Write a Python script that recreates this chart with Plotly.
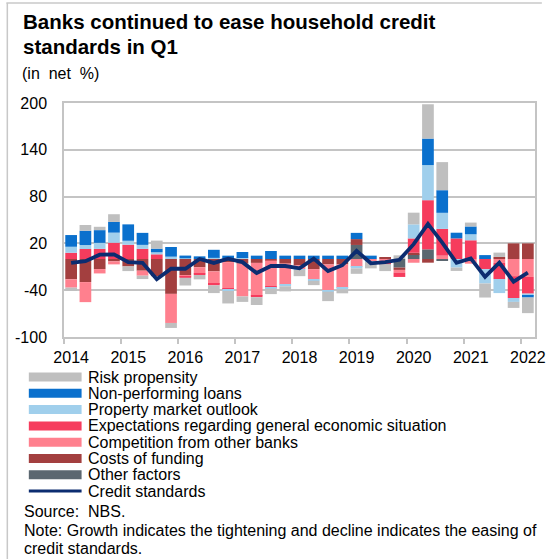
import plotly.graph_objects as go

# ---------------- data ----------------
quarters = ["2014Q1","2014Q2","2014Q3","2014Q4","2015Q1","2015Q2","2015Q3","2015Q4",
            "2016Q1","2016Q2","2016Q3","2016Q4","2017Q1","2017Q2","2017Q3","2017Q4",
            "2018Q1","2018Q2","2018Q3","2018Q4","2019Q1","2019Q2","2019Q3","2019Q4",
            "2020Q1","2020Q2","2020Q3","2020Q4","2021Q1","2021Q2","2021Q3","2021Q4",
            "2022Q1"]
year_labels = ["2014","2015","2016","2017","2018","2019","2020","2021","2022"]

risk   = [-4.3, 7.3, 4.3, 9.9, -6, -4.3, 10.3, -6.4, -10, -5.6, -9.9, -16, -7, -10, -7, -6.5,
          -8, -5.5, -12, -5, -7, -8, -9, 4.7, 15, 44, 36, -4.3, 5, -18, 5.6, -7.7, -20]
npl    = [15, 18.4, 16.3, 13.7, 21, 15.4, 4.7, 12.4, 3.4, 3.4, 10.3, 4.3, 7.7, 4.3, 10.3, 4.3,
          4.3, 4.3, 4.3, 4.3, 8, 4.3, 0, 0, 0, 34, 29, 7.3, 10, 5, 0, 0, -2]
prop   = [7.7, 5.1, 7.7, 12.9, 5.1, 5.1, 2.6, 3, 1, 0, 1.5, -1.5, 1.3, 0, -1, -2,
          -1, -2, -2, -2, -2, -1, 0, 0, 18, 45, 20.6, -11, 7.7, -18.4, -18, -5, -3]
expect = [8, 12.8, 13, 20.9, 18.3, 13, 6, 0, -2, -2, -2, -1.5, 0, -2, -2, 0,
          0, 0, 0, 0, 0, 0, -1, -5.6, 18.4, 63, 34.3, 26.4, 24, -13, -21, -28, -21.4]
compet = [-10.7, -25.7, -5.6, -3.9, 0, -6.4, 0, -37.3, -1, -8, -15.9, -34, -42, -42, -33, -27,
          -5, -13, -33, -30, -10, -3, -5.5, -3.4, -4.8, 0, 4.3, 0, -6, 0, -4.7, -22, -23]
costs  = [-26, -29.6, -12.9, -3, -9.5, -15, -22, -44.7, -21, -10.5, -15.9, -4, -6, -5, -2, -6,
          -8, -13, -7, -7, 7.5, 0, 2.5, -3, 2, -4.7, 0, 0, 0, 0, 2.6, 20, 20]
other  = [0, 0, 0, 0, 0, 0, 0, 0, 0, 0, 0, 0, 0, 0, 0, 0,
          0, 0, 0, 0, 18, 0, 0, -11, 6, 12.4, -1.5, 0, 0, 0, 0, 0, 0]
credit = [-5, -2.7, 5.5, 6, -4, -4.8, -26, -12.5, -12.5, 0, -5, 0.5, -4, -18, -9, -9,
          -12, 0.5, -15.5, -8, 10.5, -5.5, -4, -1, 19, 45, 21, -4.8, 0.8, -23, -4.8, -29, -17.6]

y_ticks = [-100, -40, 20, 80, 140, 200]

# series in stacking order (closest to zero first)
bar_series = [
    ("Other factors", other, "#5B6770"),
    ("Costs of funding", costs, "#A33F3F"),
    ("Competition from other banks", compet, "#FF808E"),
    ("Expectations regarding general economic situation", expect, "#F63C5D"),
    ("Property market outlook", prop, "#A0CFEC"),
    ("Non-performing loans", npl, "#0A70CD"),
    ("Risk propensity", risk, "#BFBFBF"),
]
line_name, line_color = "Credit standards", "#0C2C70"
legend_order = ["Risk propensity", "Non-performing loans", "Property market outlook",
                "Expectations regarding general economic situation",
                "Competition from other banks", "Costs of funding", "Other factors"]

FONT = "Liberation Sans, Arial, sans-serif"
FS = 16

# ---------------- geometry ----------------
W, H = 553, 559
L, R, T, B = 64, 546, 103, 337
PW, PH = R - L, B - T

def px_x(px):
    return (px - L) / PW

def px_y(py):
    return (B - py) / PH

x = list(range(len(quarters)))

fig = go.Figure()
for name, vals, col in bar_series:
    fig.add_trace(go.Bar(x=x, y=vals, name=name, marker=dict(color=col, line=dict(width=0)),
                         width=0.82, showlegend=False))
fig.add_trace(go.Scatter(x=x, y=credit, mode="lines", name=line_name,
                         line=dict(color=line_color, width=3.8), showlegend=False))

grid = "#C4C4C4"
fig.update_layout(
    width=W, height=H,
    margin=dict(l=L, r=W - R, t=T, b=H - B),
    barmode="relative",
    plot_bgcolor="white", paper_bgcolor="white",
    font=dict(family=FONT, size=FS, color="#000000"),
    xaxis=dict(
        range=[-0.5, len(quarters) - 0.5],
        tickvals=[quarters.index(y + "Q1") for y in year_labels],
        ticktext=year_labels,
        ticks="", showgrid=False, zeroline=False,
        showline=True, linecolor=grid, linewidth=1.5, mirror=True,
        ticklabelstandoff=5, ticklabeloverflow="allow",
        tickfont=dict(size=FS),
        minor=dict(tickvals=[quarters.index(y + "Q1") - 0.5 for y in year_labels],
                   ticks="outside", ticklen=5, tickcolor=grid, tickwidth=1.5,
                   showgrid=False),
    ),
    yaxis=dict(
        range=[-100, 200], tickvals=y_ticks, ticktext=[str(v) for v in y_ticks],
        showgrid=True, gridcolor=grid, gridwidth=1.5, zeroline=False,
        showline=True, linecolor=grid, linewidth=1.5, mirror=True,
        ticks="", ticklabelstandoff=12, tickfont=dict(size=FS),
    ),
    showlegend=False,
)

ann = []
shapes = []
# title
ann.append(dict(text="<b>Banks continued to ease household credit</b>", x=px_x(20), y=px_y(22),
                xref="paper", yref="paper", xanchor="left", yanchor="middle", showarrow=False,
                font=dict(size=20.5, family=FONT)))
ann.append(dict(text="<b>standards in Q1</b>", x=px_x(20), y=px_y(47),
                xref="paper", yref="paper", xanchor="left", yanchor="middle", showarrow=False,
                font=dict(size=20.5, family=FONT)))
ann.append(dict(text="(in\u00a0 net\u00a0 %)", x=px_x(19), y=px_y(73),
                xref="paper", yref="paper", xanchor="left", yanchor="middle", showarrow=False,
                font=dict(size=FS, family=FONT)))

# manual legend
colors = {n: c for n, _, c in bar_series}
row0, dy = 377, 16.3
for i, name in enumerate(legend_order + [line_name]):
    cy = row0 + i * dy
    if name == line_name:
        shapes.append(dict(type="line", xref="paper", yref="paper",
                           x0=px_x(28), x1=px_x(82), y0=px_y(cy), y1=px_y(cy),
                           line=dict(color=line_color, width=3)))
    else:
        shapes.append(dict(type="rect", xref="paper", yref="paper",
                           x0=px_x(28), x1=px_x(82), y0=px_y(cy - 4.5), y1=px_y(cy + 4.5),
                           fillcolor=colors[name], line=dict(width=0)))
    ann.append(dict(text=name, x=px_x(87), y=px_y(cy), xref="paper", yref="paper",
                    xanchor="left", yanchor="middle", showarrow=False,
                    font=dict(size=FS, family=FONT)))

ann.append(dict(text="Source:\u00a0 NBS.", x=px_x(21), y=px_y(511), xref="paper", yref="paper",
                xanchor="left", yanchor="middle", showarrow=False, font=dict(size=FS, family=FONT)))
ann.append(dict(text="Note: Growth indicates the tightening and decline indicates the easing of",
                x=px_x(21), y=px_y(530), xref="paper", yref="paper",
                xanchor="left", yanchor="middle", showarrow=False, font=dict(size=FS, family=FONT)))
ann.append(dict(text="credit standards.", x=px_x(21), y=px_y(548), xref="paper", yref="paper",
                xanchor="left", yanchor="middle", showarrow=False, font=dict(size=FS, family=FONT)))

# outer frame lines
shapes.append(dict(type="line", xref="paper", yref="paper", x0=px_x(5), x1=px_x(553),
                   y0=px_y(3), y1=px_y(3), line=dict(color="#C8C8C8", width=1.5)))
shapes.append(dict(type="line", xref="paper", yref="paper", x0=px_x(6), x1=px_x(6),
                   y0=px_y(3), y1=px_y(559), line=dict(color="#C8C8C8", width=1.5)))

fig.update_layout(annotations=ann, shapes=shapes)
fig.write_html("out.html")
